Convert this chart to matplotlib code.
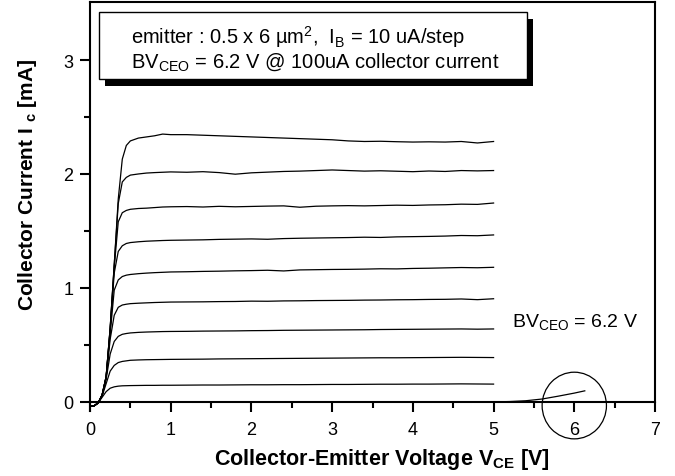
import numpy as np
import matplotlib
matplotlib.use("Agg")
import matplotlib.pyplot as plt
from matplotlib.patches import Rectangle, Ellipse

plt.rcParams['font.family'] = ['Liberation Sans', 'DejaVu Sans']
plt.rcParams['mathtext.fontset'] = 'custom'
plt.rcParams['mathtext.rm'] = 'Liberation Sans'
plt.rcParams['mathtext.it'] = 'Liberation Sans:italic'
plt.rcParams['mathtext.bf'] = 'Liberation Sans:bold'

# collector-emitter voltage grid [V]
vce = [0.0, 0.05, 0.1, 0.15, 0.2, 0.25, 0.3, 0.35, 0.4, 0.45, 0.5, 0.6, 0.7, 0.8, 0.9, 1.0,
       1.2, 1.4, 1.6, 1.8, 2.0, 2.2, 2.4, 2.6, 2.8, 3.0, 3.2, 3.4, 3.6, 3.8, 4.0, 4.2, 4.4, 4.6, 4.8, 5.0]

# collector current [mA], IB = 10 ... 90 uA
ic_10 = [-0.04, -0.035, -0.01, 0.04, 0.09, 0.12, 0.132, 0.138, 0.141, 0.142, 0.143, 0.144, 0.145, 0.145, 0.146, 0.146,
         0.147, 0.148, 0.148, 0.149, 0.150, 0.150, 0.151, 0.151, 0.152, 0.153, 0.153, 0.154, 0.155, 0.155, 0.156, 0.156, 0.157, 0.158, 0.157, 0.156]
ic_20 = [-0.04, -0.035, -0.01, 0.05, 0.16, 0.27, 0.32, 0.345, 0.355, 0.36, 0.365, 0.368, 0.37, 0.371, 0.372, 0.373,
         0.374, 0.375, 0.377, 0.378, 0.379, 0.380, 0.381, 0.382, 0.383, 0.384, 0.385, 0.386, 0.387, 0.387, 0.388, 0.389, 0.390, 0.391, 0.390, 0.389]
ic_30 = [-0.04, -0.035, -0.01, 0.055, 0.2, 0.42, 0.53, 0.575, 0.593, 0.6, 0.605, 0.61, 0.613, 0.615, 0.617, 0.618,
         0.619, 0.621, 0.622, 0.623, 0.625, 0.626, 0.628, 0.629, 0.630, 0.631, 0.632, 0.633, 0.635, 0.636, 0.637, 0.638, 0.639, 0.640, 0.638, 0.640]
ic_40 = [-0.04, -0.035, -0.01, 0.06, 0.21, 0.55, 0.76, 0.83, 0.85, 0.857, 0.862, 0.866, 0.869, 0.872, 0.874, 0.876,
         0.877, 0.878, 0.880, 0.881, 0.884, 0.883, 0.886, 0.887, 0.889, 0.890, 0.891, 0.893, 0.894, 0.896, 0.897, 0.899, 0.900, 0.903, 0.897, 0.905]
ic_50 = [-0.04, -0.035, -0.01, 0.06, 0.22, 0.6, 0.98, 1.07, 1.1, 1.112, 1.118, 1.125, 1.13, 1.134, 1.137, 1.14,
         1.142, 1.145, 1.147, 1.15, 1.152, 1.155, 1.149, 1.158, 1.16, 1.162, 1.163, 1.165, 1.168, 1.167, 1.171, 1.173, 1.176, 1.179, 1.177, 1.181]
ic_60 = [-0.04, -0.035, -0.01, 0.06, 0.22, 0.63, 1.13, 1.32, 1.37, 1.39, 1.398, 1.405, 1.41, 1.413, 1.416, 1.418,
         1.42, 1.422, 1.426, 1.428, 1.43, 1.427, 1.433, 1.436, 1.438, 1.44, 1.442, 1.445, 1.443, 1.448, 1.45, 1.452, 1.455, 1.46, 1.458, 1.465]
ic_70 = [-0.04, -0.035, -0.01, 0.06, 0.22, 0.64, 1.18, 1.58, 1.66, 1.68, 1.69, 1.697, 1.70, 1.705, 1.71, 1.712,
         1.714, 1.71, 1.716, 1.712, 1.715, 1.718, 1.72, 1.708, 1.717, 1.72, 1.722, 1.72, 1.723, 1.726, 1.724, 1.728, 1.73, 1.735, 1.733, 1.745]
ic_80 = [-0.04, -0.035, -0.01, 0.06, 0.22, 0.65, 1.2, 1.74, 1.93, 1.97, 1.99, 2.0, 2.008, 2.012, 2.015, 2.018,
         2.015, 2.02, 2.012, 1.998, 2.01, 2.016, 2.022, 2.025, 2.03, 2.035, 2.03, 2.025, 2.028, 2.024, 2.02, 2.026, 2.022, 2.03, 2.027, 2.03]
ic_90 = [-0.04, -0.035, -0.01, 0.06, 0.22, 0.65, 1.2, 1.78, 2.13, 2.25, 2.29, 2.315, 2.325, 2.335, 2.35, 2.345,
         2.345, 2.34, 2.335, 2.33, 2.325, 2.32, 2.315, 2.31, 2.305, 2.30, 2.29, 2.285, 2.287, 2.283, 2.28, 2.282, 2.28, 2.285, 2.272, 2.285]
curves = [ic_10, ic_20, ic_30, ic_40, ic_50, ic_60, ic_70, ic_80, ic_90]

# open-base breakdown sweep
v_bd = [5.0, 5.2, 5.4, 5.6, 5.8, 6.0, 6.13]
i_bd = [0.0, 0.003, 0.01, 0.025, 0.05, 0.077, 0.097]

fig = plt.figure(figsize=(6.75, 4.77), dpi=100)
ax = fig.add_axes([90 / 675, 1 - 412 / 477, 565 / 675, 409 / 477])

for ic in curves:
    ax.plot(vce, ic, color='black', lw=0.9)
ax.plot(v_bd, i_bd, color='black', lw=0.9)

ax.add_patch(Ellipse((6.0, -0.032), 0.797, 0.585, fill=False, ec='black', lw=0.9, clip_on=False))
ax.text(5.225, 0.67, r'BV$_{\mathrm{CEO}}$ = 6.2 V', fontsize=14, va='baseline')

ax.set_xlim(0, 7)
ax.set_ylim(-0.08, 3.509)
ax.set_xticks([0, 1, 2, 3, 4, 5, 6, 7])
ax.set_xticks([0.5, 1.5, 2.5, 3.5, 4.5, 5.5, 6.5], minor=True)
ax.set_yticks([0, 1, 2, 3])
ax.set_yticks([0.5, 1.5, 2.5], minor=True)
ax.spines['bottom'].set_position(('data', 0))
ax.spines['right'].set_bounds(0, 3.509)
for s in ax.spines.values():
    s.set_linewidth(1.5)
ax.tick_params(which='major', direction='out', length=7, width=1.5, labelsize=13)
ax.tick_params(which='minor', direction='out', length=4, width=1.5)
ax.tick_params(axis='x', which='major', pad=7)
ax.tick_params(axis='y', which='major', pad=5)

fig.text(28 / 675, 1 - 185 / 477, r'Collector Current I $_{\mathbf{c}}$ [mA]', rotation=90,
         ha='center', va='center', fontsize=15, fontweight='bold')
fig.text(382 / 675, 1 - 460 / 477, r'Collector-Emitter Voltage V$_{\mathbf{CE}}$ [V]',
         ha='center', va='center', fontsize=15.5, fontweight='bold')

# note box with drop shadow
fig.patches.append(Rectangle((105 / 675, 1 - 87 / 477), 428 / 675, 67 / 477, transform=fig.transFigure,
                             fc='black', ec='black', lw=0))
fig.patches.append(Rectangle((99 / 675, 1 - 80 / 477), 428 / 675, 67 / 477, transform=fig.transFigure,
                             fc='white', ec='black', lw=1))
fig.text(131 / 675, 1 - 44 / 477, r'emitter : 0.5 x 6 µm$^2$,  I$_{\mathrm{B}}$ = 10 uA/step',
         fontsize=14.5, va='baseline')
fig.text(131 / 675, 1 - 68 / 477, r'BV$_{\mathrm{CEO}}$ = 6.2 V @ 100uA collector current',
         fontsize=14.5, va='baseline')

fig.savefig('out.png', dpi=100)
